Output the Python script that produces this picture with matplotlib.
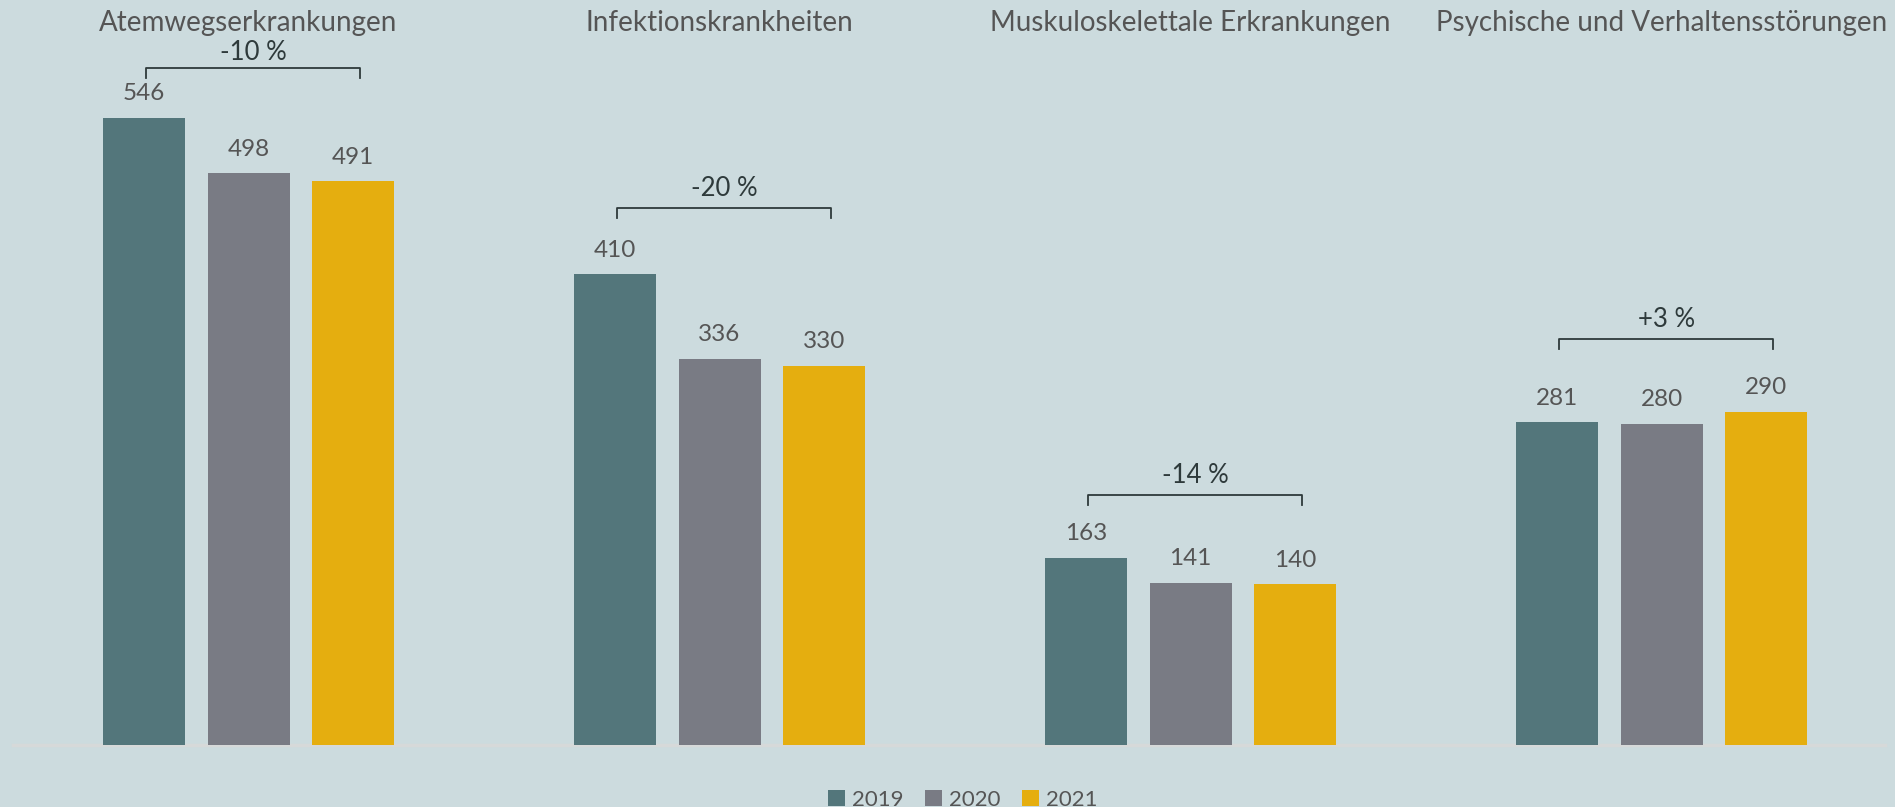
import matplotlib

matplotlib.use("Agg")
import matplotlib.pyplot as plt
import numpy as np

categories = [
    "Atemwegserkrankungen",
    "Infektionskrankheiten",
    "Muskuloskelettale Erkrankungen",
    "Psychische und Verhaltensstörungen",
]
years = ["2019", "2020", "2021"]
values_2019 = [546, 410, 163, 281]
values_2020 = [498, 336, 141, 280]
values_2021 = [491, 330, 140, 290]
changes = ["-10 %", "-20 %", "-14 %", "+3 %"]

BG = "#CCDBDE"
COLORS = ["#53767B", "#797B84", "#E5AE0F"]
TEXT = "#555555"
DARK = "#2E3A3B"

plt.rcParams["font.family"] = ["Lato", "DejaVu Sans"]

fig = plt.figure(figsize=(18.95, 8.07), dpi=100)
fig.patch.set_facecolor(BG)
ax = fig.add_axes([0, 0, 1, 1])
ax.set_facecolor(BG)

px_x = 471.0  # pixels per group
px_y = 1.148  # pixels per unit
ax.set_xlim(-248.5 / px_x, (1895 - 248.5) / px_x)
ax.set_ylim(-62 / px_y, (807 - 62) / px_y)
ax.axis("off")

x = np.arange(len(categories))
step = 104.5 / px_x
width = 82 / px_x
series = [values_2019, values_2020, values_2021]

ax.plot([(13 - 248.5) / px_x, (1885 - 248.5) / px_x], [0, 0], color="#D6D9D9", lw=2.5, zorder=1)

for i, (vals, col, yr) in enumerate(zip(series, COLORS, years)):
    xs = x + (i - 1) * step
    ax.bar(xs, vals, width=width, color=col, zorder=2, label=yr)
    for xi, v in zip(xs, vals):
        ax.text(xi, v + 12, f"{v}", ha="center", va="bottom", fontsize=17.5, color=TEXT)

# bracket height above tallest bar, and gap of the label above the bracket
bracket_gap = [44, 58, 55, 64]
label_gap = [2, 6, 6, 6]
for xi, vals_max, ch, gap, lg in zip(x, np.max(series, axis=0), changes, bracket_gap, label_gap):
    yb = vals_max + gap
    x0, x1 = xi - step + 0.005, xi + step + 0.015
    ax.plot([x0, x0, x1, x1], [yb - 9, yb, yb, yb - 9], color=DARK, lw=1.3, zorder=3)
    ax.text((x0 + x1) / 2, yb + lg, ch, ha="center", va="bottom", fontsize=18.5, color=DARK)

for xi, cat in zip(x, categories):
    ax.text(xi, (807 - 62 - 23) / px_y, cat, ha="center", va="center",
            fontsize=20, color=TEXT)

ax.legend(loc="lower center", bbox_to_anchor=(0.508, -0.028), ncol=3, frameon=False,
          fontsize=16, labelcolor=TEXT, handlelength=0.75,
          handleheight=0.75, handletextpad=0.3, columnspacing=1.0)

plt.savefig("out.png", dpi=100, facecolor=BG)
plt.close()
